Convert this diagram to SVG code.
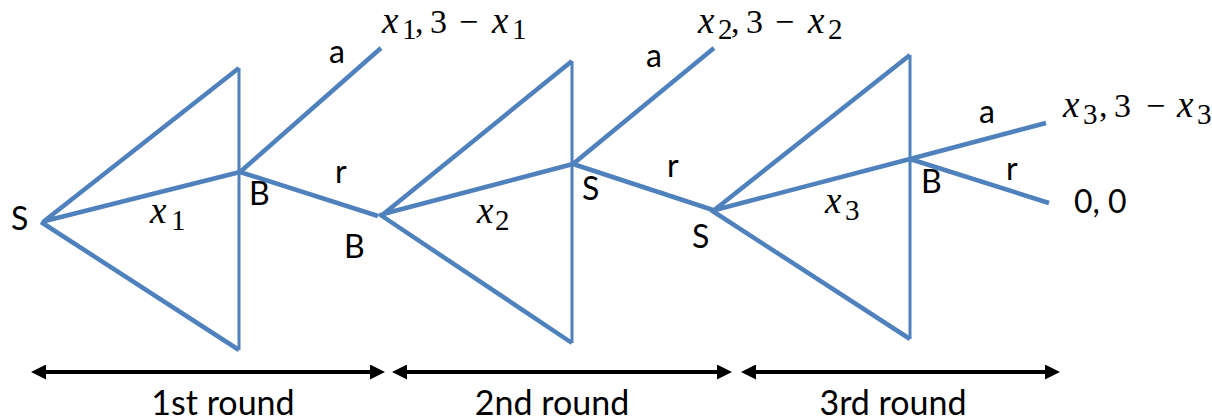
<svg xmlns="http://www.w3.org/2000/svg" width="1212" height="420" viewBox="0 0 1212 420">
<defs>
<style>
.e{stroke:#4F81BD;stroke-width:4.5;fill:none;stroke-linecap:butt}
.v{stroke:#4F81BD;stroke-width:3;fill:none}
.ar{stroke:#000;stroke-width:4;fill:none;marker-start:url(#ah);marker-end:url(#ah)}
.t{font-family:Lato,"Open Sans",sans-serif;font-size:32px;fill:#000}
.rl{font-family:Lato,"Open Sans",sans-serif;font-size:34px;fill:#000;text-anchor:middle}
.mx{font-family:"Liberation Serif",serif;font-size:37px;font-style:italic;fill:#000}
.md{font-family:"Liberation Serif",serif;font-size:29px;font-style:normal;fill:#000}
.mb{font-family:"Liberation Serif",serif;font-size:34px;font-style:normal;fill:#000}
</style>
<marker id="ah" viewBox="0 0 15 15" refX="5" refY="7.5" markerWidth="15" markerHeight="15" markerUnits="userSpaceOnUse" orient="auto-start-reverse">
<path d="M0,0 L15,7.5 L0,15 Z" fill="#000"/>
</marker>
</defs>
<rect width="1212" height="420" fill="#fff"/>
<g id="connectors">
<path class="e" d="M43,222 L239,68 M41,222 L239,350 M45,221 L240,172 M240,172 L381,48 M240,172 L378,216"/>
<path class="v" d="M239,68 L239,350"/>
<path class="e" d="M381,216 L572,61 M379,214 L572,343 M383,214 L573,164 M573,164 L714,48 M573,164 L713,210"/>
<path class="v" d="M572,61 L572,343"/>
<path class="e" d="M713,211 L910,55 M711,210 L910,339 M715,210 L910,159 M910,159 L1046,123 M910,159 L1049,203"/>
<path class="v" d="M910,55 L910,339"/>
<path class="ar" d="M41,372 L375,372"/>
<path class="ar" d="M402,372 L722,372"/>
<path class="ar" d="M751,372 L1050,372"/>
</g>
<g id="round1">
<text class="t" x="11" y="230">S</text>
<text class="mx" x="150" y="223">x</text><text class="md" x="171" y="230">1</text>
<text class="t" x="249" y="205">B</text>
<text class="t" x="329" y="63">a</text>
<text class="t" x="335" y="183">r</text>
<text class="t" x="344" y="258">B</text>
<text class="mx" x="382" y="33">x</text><text class="md" x="402" y="39">1</text><text class="mb" x="415" y="33">,</text><text class="mb" x="430" y="33">3</text><text class="mb" x="459" y="33">−</text><text class="mx" x="492" y="33">x</text><text class="md" x="512" y="39">1</text>
<text class="rl" x="223" y="415">1st round</text>
</g>
<g id="round2">
<text class="mx" x="477" y="223">x</text><text class="md" x="495" y="230">2</text>
<text class="t" x="582" y="200">S</text>
<text class="t" x="646" y="67">a</text>
<text class="t" x="667" y="177">r</text>
<text class="t" x="692" y="248">S</text>
<text class="mx" x="698" y="33">x</text><text class="md" x="718" y="39">2</text><text class="mb" x="731" y="33">,</text><text class="mb" x="746" y="33">3</text><text class="mb" x="775" y="33">−</text><text class="mx" x="808" y="33">x</text><text class="md" x="828" y="39">2</text>
<text class="rl" x="552" y="415">2nd round</text>
</g>
<g id="round3">
<text class="mx" x="825" y="213">x</text><text class="md" x="845" y="220">3</text>
<text class="t" x="921" y="193">B</text>
<text class="t" x="979" y="123">a</text>
<text class="t" x="1006" y="180">r</text>
<text class="mx" x="1063" y="117">x</text><text class="md" x="1083" y="124">3</text><text class="mb" x="1099" y="117">,</text><text class="mb" x="1114" y="117">3</text><text class="mb" x="1146" y="117">−</text><text class="mx" x="1177" y="117">x</text><text class="md" x="1197" y="124">3</text>
<text class="t" x="1074" y="213">0, 0</text>
<text class="rl" x="893" y="415">3rd round</text>
</g>
</svg>
